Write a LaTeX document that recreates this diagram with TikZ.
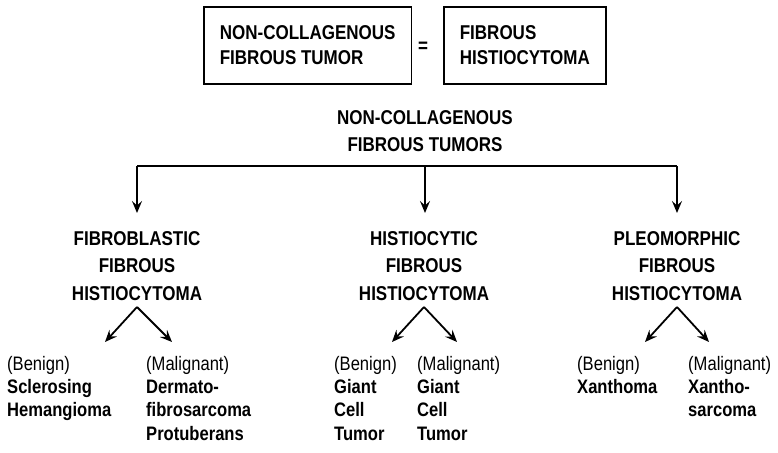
\documentclass[tikz,border=0pt]{standalone}
\usepackage{fontspec}
\setmainfont{Liberation Sans}
\newfontfamily\hd[FakeStretch=0.85]{Liberation Sans}
\usetikzlibrary{arrows.meta}
\begin{document}
\begin{tikzpicture}[x=1pt,y=-1pt,
  box/.style={draw, line width=1.7pt, align=left, inner xsep=16pt, inner ysep=0pt, minimum height=77pt, anchor=west, font=\hd\bfseries\fontsize{20}{25}\selectfont},
  head/.style={align=center, inner sep=0pt, font=\hd\bfseries\fontsize{20}{27.5}\selectfont},
  sub/.style={align=left, inner sep=0pt, anchor=north west, font=\hd\fontsize{19.5}{23.3}\selectfont},
  conn/.style={line width=1.8pt},
  arr/.style={line width=1.8pt, -{Stealth[length=12pt,width=10pt,inset=4.5pt]}},
]
\useasboundingbox (0,0) rectangle (778,452);

% top boxes
\node[box] (b1) at (203,45.5) {NON-COLLAGENOUS\\FIBROUS TUMOR};
\node[box] (b2) at (443,45.5) {FIBROUS\\HISTIOCYTOMA};
\node[head] (eq) at (423,47) {=};

% title
\node[head] (title) at (425,131) {NON-COLLAGENOUS\\FIBROUS TUMORS};

% branch bar
\coordinate (j1) at (137,166);
\coordinate (j2) at (425,166);
\coordinate (j3) at (677,166);
\coordinate (t1) at (137,213);
\coordinate (t2) at (425,213);
\coordinate (t3) at (677,213);
\draw[conn] (j1) -- (j3);
\draw[arr] (j1) -- (t1);
\draw[arr] (j2) -- (t2);
\draw[arr] (j3) -- (t3);

% headings
\node[head] (h1) at (137,266) {FIBROBLASTIC\\FIBROUS\\HISTIOCYTOMA};
\node[head] (h2) at (424,266) {HISTIOCYTIC\\FIBROUS\\HISTIOCYTOMA};
\node[head] (h3) at (677,266) {PLEOMORPHIC\\FIBROUS\\HISTIOCYTOMA};

% sub arrows
\coordinate (p1) at (137,307); \coordinate (l1) at (105,342); \coordinate (r1) at (172,342);
\coordinate (p2) at (424,307); \coordinate (l2) at (392,342); \coordinate (r2) at (457,342);
\coordinate (p3) at (677,307); \coordinate (l3) at (645,342); \coordinate (r3) at (709,342);
\draw[arr] (p1) -- (l1); \draw[arr] (p1) -- (r1);
\draw[arr] (p2) -- (l2); \draw[arr] (p2) -- (r2);
\draw[arr] (p3) -- (l3); \draw[arr] (p3) -- (r3);

% leaves
\node[sub] (s1) at (7,356) {(Benign)\\\textbf{Sclerosing}\\\textbf{Hemangioma}};
\node[sub] (s2) at (146,356) {(Malignant)\\\textbf{Dermato-}\\\textbf{fibrosarcoma}\\\textbf{Protuberans}};
\node[sub] (s3) at (334,356) {(Benign)\\\textbf{Giant}\\\textbf{Cell}\\\textbf{Tumor}};
\node[sub] (s4) at (417,356) {(Malignant)\\\textbf{Giant}\\\textbf{Cell}\\\textbf{Tumor}};
\node[sub] (s5) at (577,356) {(Benign)\\\textbf{Xanthoma}};
\node[sub] (s6) at (688,356) {(Malignant)\\\textbf{Xantho-}\\\textbf{sarcoma}};
\end{tikzpicture}
\end{document}
